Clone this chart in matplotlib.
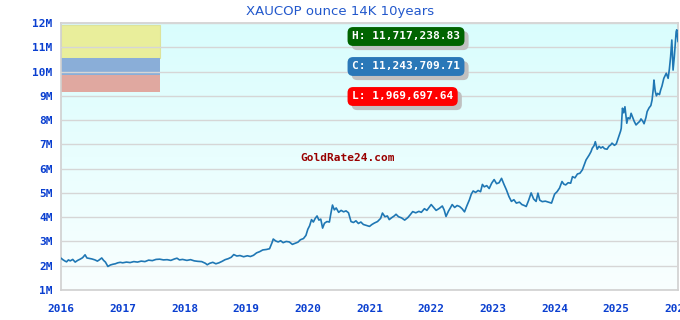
import numpy as np
import matplotlib
matplotlib.use("Agg")
import matplotlib.pyplot as plt
import matplotlib.patheffects as pe
from matplotlib.colors import LinearSegmentedColormap
from matplotlib.patches import Rectangle

# price of 14K gold ounce in COP, millions
years = [
    2016.00, 2016.03, 2016.06, 2016.09, 2016.12, 2016.15, 2016.19, 2016.23, 2016.27, 2016.31,
    2016.35, 2016.39, 2016.42, 2016.46, 2016.50, 2016.55, 2016.59, 2016.62, 2016.66, 2016.69,
    2016.72, 2016.76, 2016.80, 2016.84, 2016.88, 2016.92, 2016.96, 2017.00, 2017.06, 2017.12,
    2017.18, 2017.24, 2017.30, 2017.36, 2017.42, 2017.48, 2017.54, 2017.60, 2017.66, 2017.72,
    2017.78, 2017.84, 2017.88, 2017.92, 2017.97, 2018.04, 2018.10, 2018.16, 2018.22, 2018.28,
    2018.34, 2018.37, 2018.41, 2018.46, 2018.51, 2018.56, 2018.61, 2018.66, 2018.71, 2018.76,
    2018.80, 2018.85, 2018.90, 2018.96, 2019.02, 2019.07, 2019.12, 2019.17, 2019.22, 2019.27,
    2019.33, 2019.38, 2019.42, 2019.44, 2019.48, 2019.52, 2019.56, 2019.60, 2019.65, 2019.70,
    2019.75, 2019.79, 2019.84, 2019.88, 2019.93, 2019.97, 2020.00, 2020.03, 2020.06, 2020.09,
    2020.12, 2020.15, 2020.18, 2020.21, 2020.24, 2020.27, 2020.31, 2020.35, 2020.37, 2020.40,
    2020.43, 2020.46, 2020.50, 2020.54, 2020.58, 2020.62, 2020.66, 2020.70, 2020.74, 2020.78,
    2020.82, 2020.86, 2020.90, 2020.95, 2021.00, 2021.04, 2021.08, 2021.13, 2021.18, 2021.21,
    2021.25, 2021.29, 2021.32, 2021.36, 2021.40, 2021.43, 2021.47, 2021.52, 2021.57, 2021.62,
    2021.66, 2021.70, 2021.75, 2021.80, 2021.84, 2021.89, 2021.93, 2021.97, 2022.00, 2022.04,
    2022.08, 2022.13, 2022.18, 2022.21, 2022.24, 2022.28, 2022.31, 2022.34, 2022.38, 2022.42,
    2022.46, 2022.50, 2022.54, 2022.58, 2022.62, 2022.65, 2022.68, 2022.72, 2022.76, 2022.80,
    2022.83, 2022.86, 2022.90, 2022.94, 2022.98, 2023.02, 2023.06, 2023.10, 2023.14, 2023.18,
    2023.22, 2023.26, 2023.30, 2023.34, 2023.38, 2023.43, 2023.47, 2023.51, 2023.54, 2023.58,
    2023.62, 2023.66, 2023.70, 2023.73, 2023.76, 2023.80, 2023.85, 2023.90, 2023.95, 2024.00,
    2024.04, 2024.08, 2024.12, 2024.15, 2024.18, 2024.22, 2024.26, 2024.29, 2024.33, 2024.37,
    2024.41, 2024.45, 2024.48, 2024.51, 2024.56, 2024.59, 2024.61, 2024.64, 2024.66, 2024.69,
    2024.72, 2024.75, 2024.78, 2024.81, 2024.85, 2024.88, 2024.91, 2024.93, 2024.97, 2025.00,
    2025.03, 2025.05, 2025.07, 2025.08, 2025.10, 2025.12, 2025.14, 2025.16, 2025.17, 2025.19,
    2025.22, 2025.24, 2025.26, 2025.29, 2025.32, 2025.35, 2025.38, 2025.40, 2025.43, 2025.45,
    2025.48, 2025.50, 2025.53, 2025.56, 2025.58, 2025.60, 2025.61, 2025.63, 2025.65, 2025.67,
    2025.70, 2025.72, 2025.74, 2025.77, 2025.81, 2025.84, 2025.86, 2025.88, 2025.90, 2025.92,
    2025.94, 2025.95, 2025.97, 2025.98, 2026.00,
]
prices = [
    2.31, 2.25, 2.20, 2.16, 2.24, 2.20, 2.26, 2.15, 2.22, 2.27,
    2.33, 2.45, 2.32, 2.30, 2.28, 2.24, 2.19, 2.24, 2.32, 2.22,
    2.15, 1.97, 2.03, 2.06, 2.08, 2.12, 2.14, 2.12, 2.15, 2.13,
    2.17, 2.15, 2.19, 2.17, 2.23, 2.21, 2.26, 2.27, 2.24, 2.25,
    2.22, 2.28, 2.31, 2.24, 2.26, 2.22, 2.25, 2.20, 2.18, 2.17,
    2.10, 2.04, 2.10, 2.14, 2.08, 2.12, 2.18, 2.25, 2.29, 2.35,
    2.46, 2.40, 2.42, 2.37, 2.41, 2.38, 2.43, 2.53, 2.58, 2.65,
    2.67, 2.70, 2.95, 3.10, 3.02, 2.98, 3.03, 2.95, 3.00, 2.98,
    2.88, 2.92, 2.97, 3.07, 3.12, 3.25, 3.50, 3.65, 3.90, 3.80,
    3.95, 4.05, 3.88, 3.92, 3.55, 3.75, 3.82, 3.80, 4.10, 4.50,
    4.30, 4.38, 4.20, 4.28, 4.22, 4.26, 4.18, 3.82, 3.78, 3.85,
    3.74, 3.80, 3.70, 3.66, 3.62, 3.70, 3.76, 3.82, 3.95, 4.17,
    4.02, 4.05, 3.90, 3.98, 4.05, 4.12, 4.02, 3.97, 3.88, 3.98,
    4.10, 4.23, 4.18, 4.24, 4.20, 4.35, 4.28, 4.42, 4.52, 4.40,
    4.28, 4.36, 4.46, 4.30, 4.03, 4.25, 4.38, 4.52, 4.40, 4.48,
    4.44, 4.35, 4.22, 4.48, 4.72, 4.95, 5.08, 5.02, 5.10, 5.05,
    5.35, 5.25, 5.30, 5.18, 5.40, 5.55, 5.38, 5.42, 5.60, 5.35,
    5.12, 4.85, 4.65, 4.72, 4.58, 4.62, 4.52, 4.48, 4.44, 4.70,
    5.00, 4.75, 4.65, 4.99, 4.70, 4.64, 4.66, 4.62, 4.58, 4.95,
    5.05, 5.20, 5.47, 5.36, 5.33, 5.42, 5.40, 5.67, 5.62, 5.78,
    5.81, 5.95, 6.15, 6.36, 6.56, 6.70, 6.84, 6.95, 7.11, 6.80,
    6.92, 6.85, 6.90, 6.82, 6.80, 6.92, 6.98, 7.05, 6.96, 7.02,
    7.25, 7.39, 7.55, 7.66, 8.49, 8.30, 8.55, 8.10, 7.87, 8.10,
    8.05, 8.28, 8.15, 7.95, 7.80, 7.88, 7.95, 8.05, 7.95, 7.85,
    8.10, 8.35, 8.50, 8.60, 8.83, 9.30, 9.65, 9.20, 9.00, 9.10,
    9.05, 9.25, 9.40, 9.72, 9.93, 9.72, 10.10, 10.61, 11.30, 10.06,
    10.60, 10.96, 11.64, 11.72, 11.24,
]

year_ticks = list(range(2016, 2027))
m_ticks = list(range(1, 13))

title = "XAUCOP ounce 14K 10years"
high_txt = "H: 11,717,238.83"
close_txt = "C: 11,243,709.71"
low_txt = "L: 1,969,697.64"

tick_blue = "#0a3fd0"
mono = "DejaVu Sans Mono"

fig = plt.figure(figsize=(6.8, 3.2), dpi=100)
ax = fig.add_axes([61 / 680, 30 / 320, 617 / 680, 267 / 320])

# gradient background, cyan at top fading to white
cmap = LinearSegmentedColormap.from_list("bg", ["#f9ffff", "#d9fdfd"])
grad = np.linspace(0, 1, 256).reshape(-1, 1)
ax.imshow(grad, cmap=cmap, aspect="auto", extent=[0, 1, 0, 1],
          transform=ax.transAxes, origin="lower", zorder=0)

# coloured blocks in the top left corner
ax.add_patch(Rectangle((0, 1 - 35.3 / 267), 99 / 617, 33.3 / 267, transform=ax.transAxes,
                       facecolor="#e9ee9b", edgecolor="#dde39a", lw=0.8, zorder=1))
ax.add_patch(Rectangle((0, 1 - 52 / 267), 99 / 617, 16.7 / 267, transform=ax.transAxes,
                       facecolor="#8aaed8", edgecolor="none", zorder=1))
ax.add_patch(Rectangle((0, 1 - 68.7 / 267), 99 / 617, 16.7 / 267, transform=ax.transAxes,
                       facecolor="#e0a8a0", edgecolor="none", zorder=1))

ax.plot(years, prices, color="#1f77b4", lw=1.2, zorder=3)

ax.set_xlim(2016, 2026)
ax.set_ylim(1, 12)
ax.set_xticks(year_ticks)
ax.set_xticklabels([str(y) for y in year_ticks])
ax.set_yticks(m_ticks)
ax.set_yticklabels([f"{m}M" for m in m_ticks])
ax.grid(axis="y", color="#d6d6d6", lw=1.0, zorder=2)
ax.set_axisbelow(False)
ax.tick_params(length=0, colors=tick_blue)
ax.tick_params(axis="x", pad=10)
ax.tick_params(axis="y", pad=6)
for lab in ax.get_xticklabels() + ax.get_yticklabels():
    lab.set_fontfamily(mono)
    lab.set_fontweight("bold")
    lab.set_fontsize(8)
for s in ax.spines.values():
    s.set_color("#d0d0d0")
    s.set_linewidth(1.2)

fig.text(0.5, 1 - 11 / 320, title, ha="center", va="center",
         fontsize=9.5, color="#2258cc")

ax.text((348 - 61) / 617, (290 - 158) / 267, "GoldRate24.com", transform=ax.transAxes,
        ha="center", va="center", fontsize=8, fontfamily=mono, fontweight="bold",
        color="#990000", zorder=4)

# H / C / L boxes with a grey drop shadow
labels = [(high_txt, "#006400", 36.5), (close_txt, "#2a78b8", 66.5), (low_txt, "#ff0000", 96.5)]
for txt, col, ypix in labels:
    t = ax.text((352 - 61) / 617, (290 - ypix) / 267, txt, transform=ax.transAxes,
                ha="left", va="center", fontsize=8, fontfamily=mono, fontweight="bold",
                color="white", zorder=6,
                bbox=dict(boxstyle="round,pad=0.4,rounding_size=0.5", fc=col, ec="none"))
    t.get_bbox_patch().set_path_effects([
        pe.SimplePatchShadow(offset=(3, -3), shadow_rgbFace="#c0c0c0", alpha=1.0),
        pe.Normal(),
    ])

fig.savefig("out.png", dpi=100)
